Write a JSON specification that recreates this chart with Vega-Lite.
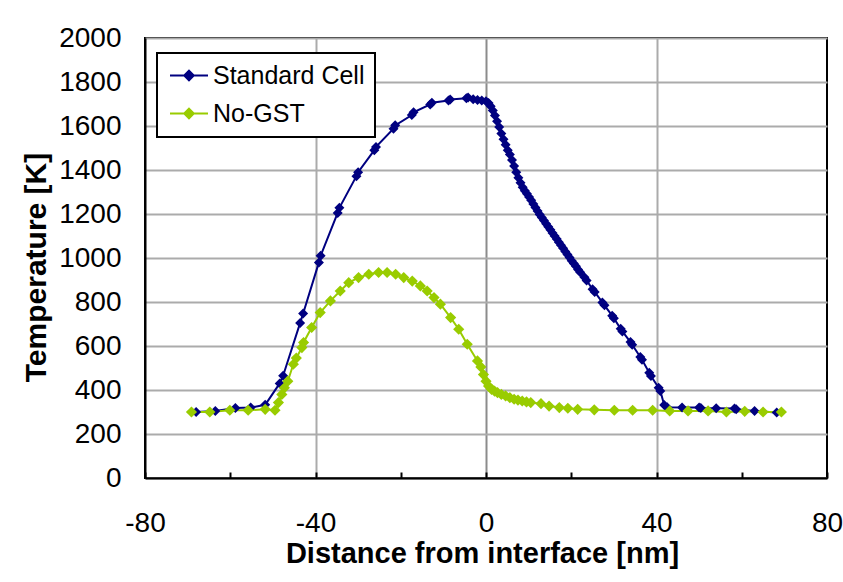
{
  "$schema": "https://vega.github.io/schema/vega-lite/v6.json",
  "width": 682,
  "height": 440,
  "autosize": {"type": "none"},
  "padding": {"left": 145, "top": 38, "right": 16, "bottom": 104},
  "background": "white",
  "config": {
    "font": "Liberation Sans",
    "view": {"stroke": "black", "strokeWidth": 2}
  },
  "data": {"values": [
    {"s":"Standard Cell","x":-68,"t":300},{"s":"Standard Cell","x":-63.5,"t":305},{"s":"Standard Cell","x":-58.8,"t":318},{"s":"Standard Cell","x":-55.2,"t":320},{"s":"Standard Cell","x":-51.8,"t":333},{"s":"Standard Cell","x":-48.4,"t":430},{"s":"Standard Cell","x":-47.6,"t":465},{"s":"Standard Cell","x":-43.6,"t":705},{"s":"Standard Cell","x":-42.9,"t":748},{"s":"Standard Cell","x":-39.2,"t":980},{"s":"Standard Cell","x":-38.8,"t":1010},{"s":"Standard Cell","x":-34.8,"t":1205},{"s":"Standard Cell","x":-34.4,"t":1228},{"s":"Standard Cell","x":-30.4,"t":1372},{"s":"Standard Cell","x":-30,"t":1390},{"s":"Standard Cell","x":-26.2,"t":1490},{"s":"Standard Cell","x":-25.8,"t":1505},{"s":"Standard Cell","x":-21.7,"t":1588},{"s":"Standard Cell","x":-21.3,"t":1603},{"s":"Standard Cell","x":-17.4,"t":1650},{"s":"Standard Cell","x":-17,"t":1662},{"s":"Standard Cell","x":-13.1,"t":1698},{"s":"Standard Cell","x":-12.7,"t":1706},{"s":"Standard Cell","x":-8.8,"t":1716},{"s":"Standard Cell","x":-8.4,"t":1720},{"s":"Standard Cell","x":-4.6,"t":1726},{"s":"Standard Cell","x":-4.2,"t":1729},{"s":"Standard Cell","x":-3,"t":1722},{"s":"Standard Cell","x":-2,"t":1718},{"s":"Standard Cell","x":-1,"t":1716},{"s":"Standard Cell","x":0,"t":1712},{"s":"Standard Cell","x":0.6,"t":1704},{"s":"Standard Cell","x":1.1,"t":1690},{"s":"Standard Cell","x":1.6,"t":1670},{"s":"Standard Cell","x":2.1,"t":1648},{"s":"Standard Cell","x":2.6,"t":1622},{"s":"Standard Cell","x":3.1,"t":1596},{"s":"Standard Cell","x":3.6,"t":1566},{"s":"Standard Cell","x":4.1,"t":1540},{"s":"Standard Cell","x":4.6,"t":1515},{"s":"Standard Cell","x":5.1,"t":1490},{"s":"Standard Cell","x":5.6,"t":1470},{"s":"Standard Cell","x":6.1,"t":1445},{"s":"Standard Cell","x":6.6,"t":1418},{"s":"Standard Cell","x":7.1,"t":1390},{"s":"Standard Cell","x":7.6,"t":1365},{"s":"Standard Cell","x":8.1,"t":1342},{"s":"Standard Cell","x":8.6,"t":1322},{"s":"Standard Cell","x":9.1,"t":1306},{"s":"Standard Cell","x":9.6,"t":1292},{"s":"Standard Cell","x":10.1,"t":1277},{"s":"Standard Cell","x":10.6,"t":1262},{"s":"Standard Cell","x":11.1,"t":1246},{"s":"Standard Cell","x":11.6,"t":1230},{"s":"Standard Cell","x":12.1,"t":1214},{"s":"Standard Cell","x":12.6,"t":1198},{"s":"Standard Cell","x":13.1,"t":1184},{"s":"Standard Cell","x":13.6,"t":1170},{"s":"Standard Cell","x":14.1,"t":1156},{"s":"Standard Cell","x":14.6,"t":1142},{"s":"Standard Cell","x":15.1,"t":1128},{"s":"Standard Cell","x":15.6,"t":1114},{"s":"Standard Cell","x":16.1,"t":1100},{"s":"Standard Cell","x":16.6,"t":1086},{"s":"Standard Cell","x":17.1,"t":1072},{"s":"Standard Cell","x":17.6,"t":1058},{"s":"Standard Cell","x":18.1,"t":1044},{"s":"Standard Cell","x":18.6,"t":1030},{"s":"Standard Cell","x":19.1,"t":1016},{"s":"Standard Cell","x":19.6,"t":1002},{"s":"Standard Cell","x":20.1,"t":988},{"s":"Standard Cell","x":20.6,"t":975},{"s":"Standard Cell","x":21.1,"t":962},{"s":"Standard Cell","x":21.6,"t":948},{"s":"Standard Cell","x":22.1,"t":935},{"s":"Standard Cell","x":23.1,"t":912},{"s":"Standard Cell","x":23.6,"t":898},{"s":"Standard Cell","x":25,"t":858},{"s":"Standard Cell","x":25.5,"t":846},{"s":"Standard Cell","x":27.3,"t":798},{"s":"Standard Cell","x":27.8,"t":785},{"s":"Standard Cell","x":29.6,"t":738},{"s":"Standard Cell","x":30,"t":726},{"s":"Standard Cell","x":31.6,"t":678},{"s":"Standard Cell","x":32,"t":666},{"s":"Standard Cell","x":33.9,"t":618},{"s":"Standard Cell","x":34.3,"t":606},{"s":"Standard Cell","x":36.2,"t":550},{"s":"Standard Cell","x":36.6,"t":538},{"s":"Standard Cell","x":38.3,"t":478},{"s":"Standard Cell","x":38.7,"t":464},{"s":"Standard Cell","x":40.5,"t":410},{"s":"Standard Cell","x":40.9,"t":396},{"s":"Standard Cell","x":41.8,"t":332},{"s":"Standard Cell","x":42.5,"t":322},{"s":"Standard Cell","x":46,"t":320},{"s":"Standard Cell","x":50,"t":321},{"s":"Standard Cell","x":50.4,"t":318},{"s":"Standard Cell","x":54,"t":317},{"s":"Standard Cell","x":58.3,"t":316},{"s":"Standard Cell","x":58.7,"t":312},{"s":"Standard Cell","x":63,"t":305},{"s":"Standard Cell","x":68.2,"t":298},
    {"s":"No-GST","x":-69.1,"t":300},{"s":"No-GST","x":-64.8,"t":300},{"s":"No-GST","x":-60.1,"t":308},{"s":"No-GST","x":-55.8,"t":308},{"s":"No-GST","x":-51.8,"t":312},{"s":"No-GST","x":-49.5,"t":308},{"s":"No-GST","x":-48.7,"t":343},{"s":"No-GST","x":-47.9,"t":380},{"s":"No-GST","x":-47.3,"t":410},{"s":"No-GST","x":-46.5,"t":440},{"s":"No-GST","x":-45.2,"t":517},{"s":"No-GST","x":-44.5,"t":545},{"s":"No-GST","x":-43.2,"t":593},{"s":"No-GST","x":-42.8,"t":616},{"s":"No-GST","x":-40.9,"t":684},{"s":"No-GST","x":-38.9,"t":752},{"s":"No-GST","x":-36.5,"t":805},{"s":"No-GST","x":-34.2,"t":850},{"s":"No-GST","x":-32.2,"t":888},{"s":"No-GST","x":-29.9,"t":911},{"s":"No-GST","x":-27.5,"t":926},{"s":"No-GST","x":-25.2,"t":934},{"s":"No-GST","x":-23.2,"t":934},{"s":"No-GST","x":-21.2,"t":926},{"s":"No-GST","x":-19.3,"t":911},{"s":"No-GST","x":-17.3,"t":895},{"s":"No-GST","x":-15.4,"t":873},{"s":"No-GST","x":-13.8,"t":850},{"s":"No-GST","x":-12.2,"t":820},{"s":"No-GST","x":-10.7,"t":790},{"s":"No-GST","x":-8.3,"t":729},{"s":"No-GST","x":-6.4,"t":676},{"s":"No-GST","x":-4.4,"t":608},{"s":"No-GST","x":-2,"t":532},{"s":"No-GST","x":-1.2,"t":505},{"s":"No-GST","x":-0.6,"t":470},{"s":"No-GST","x":0,"t":440},{"s":"No-GST","x":0.6,"t":418},{"s":"No-GST","x":1.3,"t":403},{"s":"No-GST","x":2,"t":395},{"s":"No-GST","x":2.7,"t":388},{"s":"No-GST","x":3.6,"t":380},{"s":"No-GST","x":4.6,"t":373},{"s":"No-GST","x":5.6,"t":365},{"s":"No-GST","x":6.6,"t":358},{"s":"No-GST","x":7.5,"t":354},{"s":"No-GST","x":8.5,"t":350},{"s":"No-GST","x":9.5,"t":346},{"s":"No-GST","x":10.5,"t":343},{"s":"No-GST","x":12.9,"t":338},{"s":"No-GST","x":14.8,"t":327},{"s":"No-GST","x":17.2,"t":320},{"s":"No-GST","x":19.2,"t":317},{"s":"No-GST","x":21.5,"t":312},{"s":"No-GST","x":25.4,"t":310},{"s":"No-GST","x":30.1,"t":308},{"s":"No-GST","x":34.4,"t":308},{"s":"No-GST","x":39.1,"t":308},{"s":"No-GST","x":43.1,"t":305},{"s":"No-GST","x":47.4,"t":305},{"s":"No-GST","x":52.1,"t":305},{"s":"No-GST","x":56.4,"t":300},{"s":"No-GST","x":60.7,"t":303},{"s":"No-GST","x":65,"t":300},{"s":"No-GST","x":69.3,"t":300}
  ]},
  "encoding": {
    "x": {
      "field": "x", "type": "quantitative",
      "scale": {"domain": [-80, 80], "nice": false, "zero": false},
      "axis": {
        "values": [-80, -60, -40, -20, 0, 20, 40, 60, 80],
        "labelExpr": "datum.value % 40 == 0 ? '' + datum.value : ''",
        "labelFont": "Liberation Sans", "labelFontSize": 28, "labelColor": "black",
        "labelPadding": 37, "labelFlush": false, "labelOverlap": false,
        "tickSize": -6, "tickColor": "black", "tickWidth": 2,
        "domainColor": "black", "domainWidth": 2,
        "grid": true,
        "gridColor": {"condition": {"test": "datum.value == 0", "value": "#8c8c8c"}, "value": "#ababab"},
        "gridOpacity": {"condition": {"test": "datum.value % 40 != 0 || datum.value == -80 || datum.value == 80", "value": 0}, "value": 1},
        "gridWidth": 2,
        "title": "Distance from interface [nm]",
        "titleFont": "Liberation Sans", "titleFontSize": 29, "titleFontWeight": "bold", "titleColor": "black",
        "titleX": 337, "titleY": 84, "titleBaseline": "alphabetic", "titleAlign": "center", "titleAnchor": null
      }
    },
    "y": {
      "field": "t", "type": "quantitative",
      "scale": {"domain": [0, 2000], "nice": false},
      "axis": {
        "values": [0, 200, 400, 600, 800, 1000, 1200, 1400, 1600, 1800, 2000],
        "format": "d",
        "labelFont": "Liberation Sans", "labelFontSize": 28, "labelColor": "black",
        "labelPadding": 24, "labelFlush": false, "labelOverlap": false,
        "ticks": false,
        "domainColor": "black", "domainWidth": 2,
        "grid": true, "gridColor": "#ababab", "gridWidth": 2,
        "title": "Temperature [K]",
        "titleFont": "Liberation Sans", "titleFontSize": 30, "titleFontWeight": "bold", "titleColor": "black",
        "titleX": -100, "titleY": 229, "titleBaseline": "alphabetic", "titleAlign": "center", "titleAngle": -90, "titleAnchor": null
      }
    },
    "color": {
      "field": "s", "type": "nominal",
      "scale": {"domain": ["Standard Cell", "No-GST"], "range": ["#000080", "#99cc00"]},
      "legend": {
        "title": null,
        "orient": "none", "legendX": 12, "legendY": 15,
        "symbolType": "M-1,0H3M1,-0.5L1.5,0L1,0.5L0.5,0Z",
        "symbolSize": 361, "symbolStrokeWidth": 2,
        "labelFont": "Liberation Sans", "labelFontSize": 25, "labelColor": "black",
        "labelOffset": 21, "rowPadding": 12, "padding": 10,
        "strokeColor": "black", "fillColor": "white",
        "encode": {
          "legend": {"update": {"strokeWidth": {"value": 2}}},
          "symbols": {"update": {"fill": {"scale": "color", "field": "value"}, "stroke": {"scale": "color", "field": "value"}, "strokeWidth": {"value": 2}}}
        }
      }
    }
  },
  "layer": [
    {"mark": {"type": "line", "strokeWidth": 2}},
    {"transform": [{"filter": "datum.s == 'Standard Cell'"}], "mark": {"type": "point", "shape": "diamond", "filled": true, "size": 100, "opacity": 1}},
    {"transform": [{"filter": "datum.s == 'No-GST'"}], "mark": {"type": "point", "shape": "diamond", "filled": true, "size": 125, "opacity": 1}}
  ]
}
